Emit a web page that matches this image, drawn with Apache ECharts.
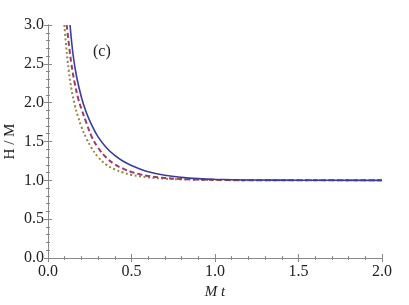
<!DOCTYPE html>
<html>
<head>
<meta charset="utf-8">
<script src="https://cdn.jsdelivr.net/npm/echarts@6/dist/echarts.min.js"></script>
<style>html,body{margin:0;padding:0;background:#fff}#c{width:409px;height:305px}</style>
</head>
<body>
<div id="c"></div>
<script>
const xTicks = [0.0, 0.5, 1.0, 1.5, 2.0];
const yTicks = [0.0, 0.5, 1.0, 1.5, 2.0, 2.5, 3.0];

const solidT = [0.132, 0.15, 0.17, 0.20, 0.23, 0.26, 0.30, 0.35, 0.40, 0.45, 0.50, 0.55, 0.60, 0.70, 0.80, 0.90, 1.00, 1.20, 1.50, 2.00];
const solidH = [3.00, 2.62, 2.35, 2.07, 1.87, 1.72, 1.56, 1.42, 1.32, 1.245, 1.19, 1.145, 1.11, 1.065, 1.038, 1.022, 1.013, 1.005, 1.001, 1.000];

const dashT = [0.112, 0.125, 0.14, 0.16, 0.18, 0.20, 0.23, 0.26, 0.30, 0.35, 0.40, 0.45, 0.50, 0.55, 0.60, 0.70, 0.80, 0.90, 1.00, 1.30, 2.00];
const dashH = [3.00, 2.75, 2.50, 2.25, 2.06, 1.92, 1.74, 1.57, 1.42, 1.29, 1.205, 1.15, 1.108, 1.078, 1.056, 1.030, 1.017, 1.009, 1.005, 1.001, 1.000];

const dotT = [0.098, 0.11, 0.125, 0.14, 0.16, 0.18, 0.20, 0.23, 0.26, 0.30, 0.35, 0.40, 0.45, 0.50, 0.60, 0.70, 0.80, 1.00, 1.30, 2.00];
const dotH = [3.00, 2.70, 2.40, 2.18, 1.97, 1.82, 1.69, 1.54, 1.42, 1.30, 1.20, 1.14, 1.10, 1.07, 1.038, 1.021, 1.012, 1.004, 1.001, 1.000];

const zip = (a, b) => a.map((v, i) => [v, b[i]]);
const frame = '#888888';
const serif = 'Liberation Serif';

function axisCommon(extra) {
  return Object.assign({
    type: 'value',
    interval: 0.5,
    axisLine: { show: true, lineStyle: { color: frame, width: 1 } },
    axisTick: { show: true, inside: true, length: 4, lineStyle: { color: frame } },
    minorTick: { show: true, splitNumber: 5, length: 2, lineStyle: { color: frame } },
    splitLine: { show: false },
    minorSplitLine: { show: false }
  }, extra);
}

const chart = echarts.init(document.getElementById('c'), null, { renderer: 'canvas' });
chart.setOption({
  animation: false,
  backgroundColor: '#fff',
  grid: { left: 48, right: 27, top: 25, bottom: 47, containLabel: false, outerBoundsMode: 'none' },
  xAxis: [
    axisCommon({
      min: 0, max: 2, position: 'bottom',
      name: 'M t', nameLocation: 'middle', nameGap: 27, nameMoveOverlap: false,
      nameTextStyle: { fontFamily: serif, fontSize: 15, fontStyle: 'italic', color: '#222' },
      axisLabel: { margin: 6, fontFamily: serif, fontSize: 16, color: '#222',
        formatter: v => xTicks.includes(v) ? v.toFixed(1) : '' }
    }),
    axisCommon({ min: 0, max: 2, position: 'top', axisLabel: { show: false } })
  ],
  yAxis: [
    axisCommon({
      min: 0, max: 3, position: 'left',
      name: 'H / M', nameLocation: 'middle', nameGap: 30, nameMoveOverlap: false,
      nameTextStyle: { fontFamily: serif, fontSize: 15, color: '#222' },
      axisLabel: { margin: 4, fontFamily: serif, fontSize: 16, color: '#222',
        formatter: v => yTicks.includes(v) ? v.toFixed(1) : '' }
    }),
    axisCommon({ min: 0, max: 3, position: 'right', axisLabel: { show: false } })
  ],
  graphic: [{
    type: 'text', left: 93, top: 44,
    style: { text: '(c)', font: '16px "Liberation Serif"', fill: '#222' }
  }],
  series: [
    { type: 'line', data: zip(dotT, dotH), smooth: 0.4, showSymbol: false,
      lineStyle: { color: '#99853d', width: 2, type: [2, 2.5] }, z: 1 },
    { type: 'line', data: zip(dashT, dashH), smooth: 0.4, showSymbol: false,
      lineStyle: { color: '#993d71', width: 2, type: [5, 3] }, z: 2 },
    { type: 'line', data: zip(solidT, solidH), smooth: 0.4, showSymbol: false,
      lineStyle: { color: '#3d3d99', width: 1.6 }, z: 3 }
  ]
});
</script>
</body>
</html>
